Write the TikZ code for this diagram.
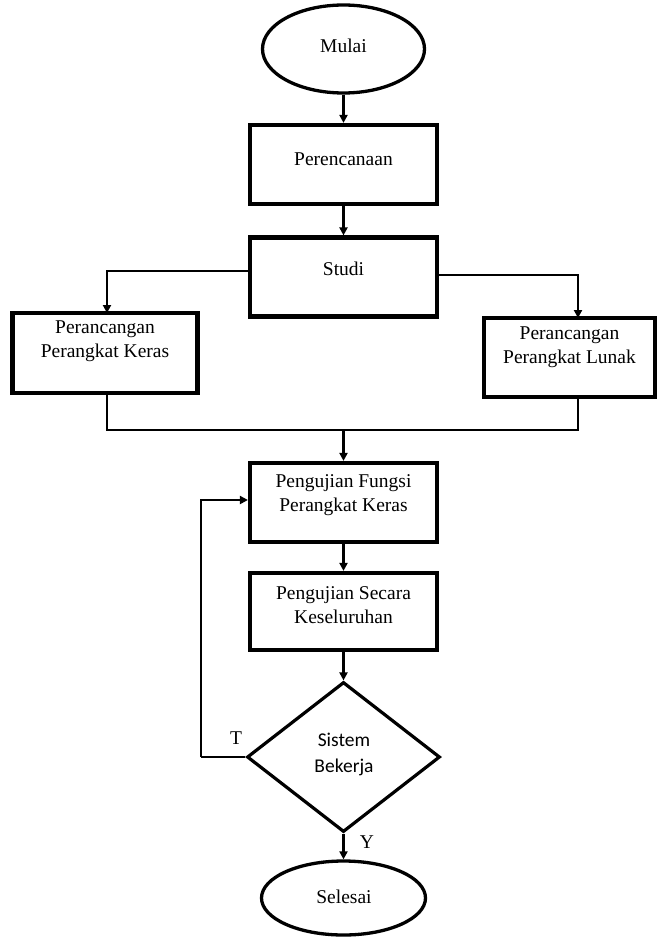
\documentclass[tikz,border=0pt]{standalone}
\usepackage{fontspec}
\setmainfont{Liberation Serif}
\newfontfamily\calfont{Carlito}
\usetikzlibrary{shapes.geometric,arrows.meta,calc}
\begin{document}
\begin{tikzpicture}[x=1pt,y=-1pt,
  box/.style={draw,line width=4.2pt,rectangle,inner sep=0pt,minimum width=187pt,minimum height=79pt},
  oval/.style={draw,line width=3.3pt,ellipse,inner sep=0pt},
  dia/.style={draw,line width=3.2pt,diamond,inner sep=0pt,minimum width=193pt,minimum height=150pt,aspect=1.29},
  txt/.style={font=\fontsize{19.5}{24.5}\selectfont,align=center,inner sep=0pt},
  conn/.style={line width=2.6pt},
  arr/.style={conn,-{Triangle[length=8pt,width=8pt]}}]
\path[use as bounding box] (0,0) rectangle (662,944);

\node[oval,minimum width=162pt,minimum height=88pt] (mulai) at (343.5,49) {};
\node[txt] (tmulai) at (343.5,46) {Mulai};
\node[box] (per) at (343.5,164.5) {};
\node[txt] (tper) at (343.5,159) {Perencanaan};
\node[box] (studi) at (343.5,277) {};
\node[txt] (tstudi) at (343.5,269) {Studi};
\node[box,minimum width=185pt,minimum height=80pt] (hw) at (105,353) {};
\node[txt] (thw) at (105,341) {Perancangan\\Perangkat Keras};
\node[box,minimum width=171pt,minimum height=79pt] (sw) at (569.5,357.5) {};
\node[txt] (tsw) at (569.5,347) {Perancangan\\Perangkat Lunak};
\node[box] (pf) at (343.5,502.5) {};
\node[txt] (tpf) at (343.5,495) {Pengujian Fungsi\\Perangkat Keras};
\node[box,minimum height=77pt] (ps) at (343.5,611.5) {};
\node[txt] (tps) at (343.5,605) {Pengujian Secara\\Keseluruhan};
\node[dia] (dec) at (343.5,757) {};
\node[txt,font=\calfont\fontsize{19.5}{26}\selectfont] (tdec) at (344,754) {Sistem\\Bekerja};
\node[oval,minimum width=164pt,minimum height=74pt] (sel) at (343.5,898) {};
\node[txt] (tsel) at (344,897) {Selesai};
\node[txt] (tT) at (236,738) {T};
\node[txt] (tY) at (367,842) {Y};

\coordinate (hwtop) at (107,313);
\coordinate (swtop) at (578,318);
\coordinate (swbot) at (578,397);
\coordinate (hwbot) at (107,393);
\coordinate (join) at (343.5,430);
\coordinate (loop) at (201,757);

\draw[arr] (mulai.south) -- (per.north);
\draw[arr] (per.south) -- (studi.north);
\draw[arr] (studi.west |- 0,271) -| (hwtop);
\draw[arr] (studi.east |- 0,275) -| (swtop);
\draw[conn] (hwbot) |- (join);
\draw[conn] (swbot) |- (join);
\draw[arr] (join) -- (pf.north);
\draw[arr] (pf.south) -- (ps.north);
\draw[arr] (ps.south) -- (dec.north);
\draw[conn] (dec.west) -- (loop);
\draw[arr] (loop) |- (pf.west |- 0,500);
\draw[arr] (dec.south) -- (sel.north);
\end{tikzpicture}
\end{document}
